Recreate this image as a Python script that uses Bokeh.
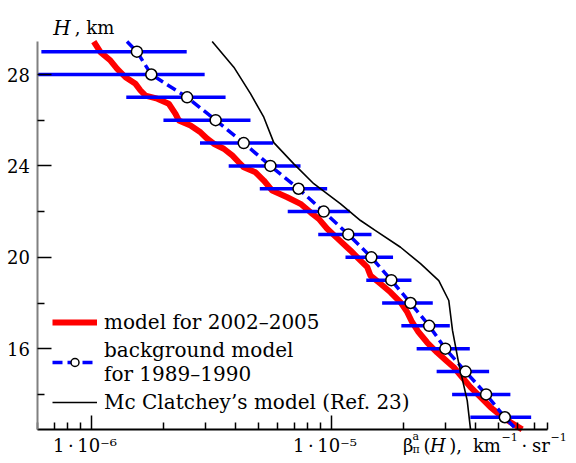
from bokeh.plotting import figure
from bokeh.models import (FixedTicker, Legend, LegendItem, Range1d, LogAxis,
                          CustomJSTickFormatter)
from bokeh.embed import file_html
from bokeh.resources import INLINE

# ---------------- data ----------------
# background model 1989-1990 (circles with horizontal error bars)
H_bg = [29, 28, 27, 26, 25, 24, 23, 22, 21, 20, 19, 18, 17, 16, 15, 14, 13]
bg = [1.55e-6, 1.78e-6, 2.51e-6, 3.30e-6, 4.32e-6, 5.58e-6, 7.31e-6, 9.31e-6,
      1.178e-5, 1.47e-5, 1.78e-5, 2.14e-5, 2.56e-5, 2.99e-5, 3.63e-5, 4.42e-5, 5.29e-5]
bg_lo = [6.2e-7, 6.0e-7, 1.40e-6, 2.0e-6, 2.84e-6, 3.74e-6, 5.04e-6, 6.59e-6,
         8.83e-6, 1.147e-5, 1.40e-5, 1.63e-5, 1.96e-5, 2.27e-5, 2.75e-5, 3.19e-5, 3.80e-5]
bg_hi = [2.5e-6, 2.97e-6, 3.63e-6, 4.61e-6, 5.73e-6, 7.45e-6, 9.62e-6, 1.196e-5,
         1.472e-5, 1.81e-5, 2.16e-5, 2.65e-5, 3.12e-5, 3.78e-5, 4.55e-5, 5.58e-5, 6.81e-5]
# dashed line ends (beyond first/last circle)
bg_top_H, bg_top = 29.44, 1.41e-6
bg_bot_H, bg_bot = 12.47, 5.9e-5

# model for 2002-2005 (thick red wavy line)
H_red = [29.44, 28.98, 28.61, 28.25, 27.88, 27.59, 27.30, 27.08, 26.94, 26.72,
         26.28, 25.99, 25.77, 25.47, 25.19, 24.97, 24.75, 24.46, 24.16, 23.94,
         23.72, 23.36, 22.92, 22.63, 22.34, 21.97, 21.68, 21.25, 20.84, 20.30,
         19.93, 19.57, 19.20, 18.84, 18.47, 18.03, 17.60, 17.17, 16.73, 16.27,
         15.83, 15.44, 15.19, 14.75, 14.32, 13.88, 13.44, 13.08, 12.78, 12.47]
red = [1.025e-6, 1.093e-6, 1.203e-6, 1.283e-6, 1.390e-6, 1.530e-6, 1.605e-6, 1.684e-6,
       1.884e-6, 2.105e-6, 2.245e-6, 2.317e-6, 2.593e-6, 2.854e-6, 3.043e-6, 3.242e-6,
       3.568e-6, 3.869e-6, 4.121e-6, 4.323e-6, 4.838e-6, 5.238e-6, 5.678e-6, 6.557e-6,
       7.449e-6, 8.199e-6, 8.88e-6, 9.62e-6, 1.059e-5, 1.203e-5, 1.303e-5, 1.413e-5,
       1.458e-5, 1.605e-5, 1.767e-5, 1.945e-5, 2.074e-5, 2.171e-5, 2.311e-5, 2.512e-5,
       2.765e-5, 3.043e-5, 3.242e-5, 3.514e-5, 3.806e-5, 4.19e-5, 4.611e-5, 5.075e-5,
       5.587e-5, 6.248e-5]

# McClatchey's model (thin black line)
H_mc = [29.44, 28.32, 27.16, 26.13, 25.02, 24.09, 23.22, 22.34, 21.61, 21.17,
        20.44, 19.72, 18.98, 18.11, 16.80, 15.34, 13.73, 12.47]
mc = [3.192e-6, 3.929e-6, 4.61e-6, 5.238e-6, 5.765e-6, 6.985e-6, 8.46e-6, 1.094e-5,
      1.325e-5, 1.530e-5, 1.945e-5, 2.356e-5, 2.807e-5, 3.090e-5, 3.202e-5, 3.402e-5,
      3.688e-5, 3.806e-5]

# axis extents (data region) and ticks
x_min, x_max = 6e-7, 8e-5
H_min, H_max = 12.47, 29.44
xticks = [1e-6, 1e-5]
xtick_labels = ["1\u2009·\u200910\u207b\u2076\u2002\u2009",
                "1\u2009·\u200910\u207b\u2075\u2002\u2009"]
xminor = [6e-7, 7e-7, 8e-7, 9e-7, 2e-6, 3e-6, 4e-6, 5e-6, 6e-6, 7e-6, 8e-6, 9e-6,
          2e-5, 3e-5, 4e-5, 5e-5, 6e-5, 7e-5, 8e-5]
yticks = [16, 20, 24, 28]
yminor = [14, 18, 22, 26]

legend_labels = ["model for 2002\u20132005", "background model\nfor 1989\u20131990",
                 "Mc Clatchey\u2019s model (Ref. 23)"]

FONT = "DejaVu Serif"
W, HGT = 568, 455

# pixel <-> data helpers for text placement (layout only)
PX_1E6, PX_PER_DECADE = 90.7, 240.0
PY_28, PX_PER_KM = 74.0, 22.85


def px2x(px):
    return 10 ** (-6 + (px - PX_1E6) / PX_PER_DECADE)


def py2H(py):
    return 28 - (py - PY_28) / PX_PER_KM


# ---------------- figure ----------------
# the frame covers the whole canvas; axes are pinned to the data region
p = figure(width=W, height=HGT, x_axis_type="log",
           x_range=Range1d(px2x(0), px2x(W)), y_range=Range1d(py2H(HGT), py2H(0)),
           output_backend="svg", toolbar_location=None,
           min_border_left=0, min_border_right=0,
           min_border_top=0, min_border_bottom=0)
p.outline_line_color = None
p.xgrid.visible = False
p.ygrid.visible = False
p.background_fill_color = "white"
p.border_fill_color = "white"

red_r = p.line(red, H_red, line_color="#ff0000", line_width=6)
p.segment(x0=bg_lo, y0=H_bg, x1=bg_hi, y1=H_bg, line_color="#0000ff", line_width=3.5)
dash_r = p.line([bg_top] + bg + [bg_bot], [bg_top_H] + H_bg + [bg_bot_H],
                line_color="#0000ff", line_width=3.5, line_dash="10 5")
mc_r = p.line(mc, H_mc, line_color="black", line_width=1.6)
circ_r = p.scatter(bg, H_bg, size=11, marker="circle", fill_color="white",
                   line_color="black", line_width=1.5)

NEAREST = """
    let best = 0;
    for (let i = 0; i < vals.length; i++) {
        if (Math.abs(Math.log10(tick) - Math.log10(vals[i])) <
            Math.abs(Math.log10(tick) - Math.log10(vals[best]))) best = i;
    }
    return labs[best];
"""

# axes
xa = p.xaxis[0]
xa.fixed_location = H_min
xa.bounds = (x_min, x_max)
xa.ticker = FixedTicker(ticks=xticks, minor_ticks=xminor)
xa.formatter = CustomJSTickFormatter(args=dict(vals=xticks, labs=xtick_labels), code=NEAREST)
xa.major_tick_in = 14
xa.major_tick_out = 0
xa.minor_tick_in = 7
xa.minor_tick_out = 0
xa.axis_line_width = 2
xa.axis_line_color = "black"
xa.major_tick_line_width = 1.5
xa.minor_tick_line_width = 1.5
xa.major_label_standoff = 6
xa.major_label_text_font = FONT
xa.major_label_text_font_size = "18px"
xa.major_label_text_color = "black"

ya = p.yaxis[0]
ya.fixed_location = x_min
ya.bounds = (H_min, H_max)
ya.ticker = FixedTicker(ticks=yticks, minor_ticks=yminor)
ya.major_tick_in = 14
ya.major_tick_out = 0
ya.minor_tick_in = 7
ya.minor_tick_out = 0
ya.axis_line_width = 2
ya.axis_line_color = "#808080"
ya.major_tick_line_width = 1.5
ya.minor_tick_line_width = 1.5
ya.major_tick_line_color = "black"
ya.minor_tick_line_color = "black"
ya.major_label_standoff = 8
ya.major_label_text_font = FONT
ya.major_label_text_font_size = "18px"
ya.major_label_text_color = "black"


def text_row(centers_px, texts, baseline_py, size=18, style="normal"):
    """axis titles: texts centred at given picture x, baseline at picture y"""
    ticks = [px2x(c) for c in centers_px]
    top = baseline_py - 0.78 * size
    ax = LogAxis(fixed_location=py2H(top),
                 ticker=FixedTicker(ticks=ticks, minor_ticks=[]),
                 formatter=CustomJSTickFormatter(args=dict(vals=ticks, labs=texts),
                                                 code=NEAREST),
                 axis_line_color=None, major_tick_line_color=None,
                 minor_tick_line_color=None, major_tick_in=0, major_tick_out=0,
                 minor_tick_in=0, minor_tick_out=0, major_label_standoff=0,
                 major_label_text_font=FONT, major_label_text_font_size=f"{size}px",
                 major_label_text_font_style=style, major_label_text_color="black")
    p.add_layout(ax, "below")


# y-axis title "H, km"
text_row([61.5], ["H"], 31, 20, "italic")
text_row([94], [", km"], 31, 18)

# x-axis title  beta_pi^a(H), km^-1 . sr^-1
base = 449
text_row([407.7, 426.5, 455.2, 486.4, 523.9, 540.4],
         ["β", "(", "),", "km", "·", "sr"], base, 18)
text_row([437.3], ["H"], base, 18, "italic")
text_row([415.3], ["a"], base - 11, 11)
text_row([509.1, 558.1], ["\u22121", "\u22121"], base - 8, 11)
text_row([415.6], ["π"], base + 2.5, 11)

# legend
legend = Legend(items=[
    LegendItem(label=legend_labels[0], renderers=[red_r]),
    LegendItem(label=legend_labels[1], renderers=[dash_r, circ_r]),
    LegendItem(label=legend_labels[2], renderers=[mc_r]),
], location=(52, 41))
legend.border_line_color = None
legend.background_fill_alpha = 0
legend.padding = 0
legend.margin = 0
legend.spacing = 4
legend.glyph_width = 45
legend.glyph_height = 20
legend.label_standoff = 7
legend.label_text_font = FONT
legend.label_text_font_size = "20px"
legend.label_text_color = "black"
legend.label_text_line_height = 1.15
legend.label_height = 20
p.add_layout(legend)

open("out.html", "w").write(file_html(p, INLINE))
